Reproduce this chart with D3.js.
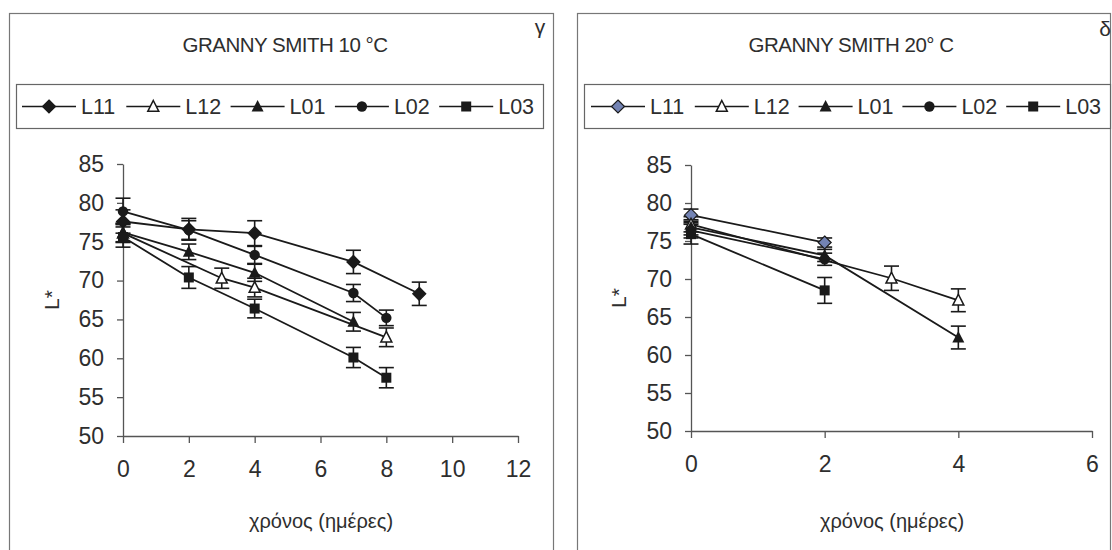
<!DOCTYPE html>
<html><head><meta charset="utf-8">
<script src="https://cdn.jsdelivr.net/npm/d3@7"></script>
<style>
html,body{margin:0;padding:0;background:#fff;}
svg{display:block;font-family:"Liberation Sans",Arial,sans-serif;}
</style></head><body>
<svg id="chart" width="1112" height="550"></svg>
<script>
// Series names and their marker styles
const seriesNames = ["L11", "L12", "L01", "L02", "L03"];
const seriesSymbols = ["diamond", "triangleOpen", "triangle", "circle", "square"];

// Storage at 10 °C: [day, L*, ± error]
const L11_10 = [[0, 77.6, 1.5], [2, 76.6, 1.4], [4, 76.1, 1.6], [7, 72.4, 1.5], [9, 68.3, 1.5]];
const L12_10 = [[0, 76.1, 1.2], [3, 70.3, 1.3], [4, 69.1, 1.2], [8, 62.7, 1.2]];
const L01_10 = [[0, 76.2, 1.2], [2, 73.7, 1.0], [4, 71.0, 1.1], [7, 64.7, 1.2]];
const L02_10 = [[0, 78.9, 1.7], [2, 76.5, 1.2], [4, 73.3, 1.1], [7, 68.4, 1.1], [8, 65.2, 1.0]];
const L03_10 = [[0, 75.6, 1.3], [2, 70.4, 1.4], [4, 66.4, 1.2], [7, 60.1, 1.3], [8, 57.5, 1.3]];

// Storage at 20 °C: [day, L*, ± error]
const L11_20 = [[0, 78.4, 0.8], [2, 74.8, 0.6]];
const L12_20 = [[0, 77.2, 1.0], [3, 70.1, 1.6], [4, 67.2, 1.5]];
const L01_20 = [[0, 76.8, 1.0], [2, 73.1, 0.8], [4, 62.3, 1.5]];
const L02_20 = [[0, 76.4, 1.0], [2, 72.6, 0.8]];
const L03_20 = [[0, 75.9, 1.3], [2, 68.5, 1.7]];

// Axis ticks and text
const yTicks = [50, 55, 60, 65, 70, 75, 80, 85];
const xTicks10 = [0, 2, 4, 6, 8, 10, 12];
const xTicks20 = [0, 2, 4, 6];
const titles = ["GRANNY SMITH 10 °C", "GRANNY SMITH 20° C"];
const panelTags = ["γ", "δ"];
const xLabel = "χρόνος (ημέρες)";
const yLabel = "L*";

const INK = "#1a1a1a";
const TEXT = "#2e2e2e";
const AXIS = "#555";
const DIAMOND_20 = "#7383b3";

const panels = [
  {
    series: [L11_10, L12_10, L01_10, L02_10, L03_10],
    xTicks: xTicks10, title: titles[0], tag: panelTags[0],
    frame: {x: 9, y: 13, w: 544, h: 560},
    legend: {x: 16, y: 84, w: 527, h: 44, start: 22, step: 104.3},
    plot: {left: 123, right: 518, top: 164, bottom: 436},
    titleX: 285, tagX: 540, tagY: 34, yLabelX: 52, yLabelY: 300, xLabelX: 321,
    diamondFill: INK
  },
  {
    series: [L11_20, L12_20, L01_20, L02_20, L03_20],
    xTicks: xTicks20, title: titles[1], tag: panelTags[1],
    frame: {x: 577, y: 13, w: 533, h: 560},
    legend: {x: 584, y: 84, w: 526, h: 44, start: 591, step: 103.8},
    plot: {left: 691, right: 1092, top: 165, bottom: 431},
    titleX: 851, tagX: 1105, tagY: 36, yLabelX: 619, yLabelY: 298, xLabelX: 892,
    diamondFill: DIAMOND_20
  }
];

const svg = d3.select("#chart");

// Marker shapes centred on (0,0)
function drawMarker(g, kind, diamondFill) {
  if (kind === "diamond") {
    g.append("path").attr("d", "M0,-6.5L6.5,0L0,6.5L-6.5,0Z")
      .attr("fill", diamondFill).attr("stroke", INK).attr("stroke-width", 1.2);
  } else if (kind === "circle") {
    g.append("circle").attr("r", 5.2).attr("fill", INK);
  } else if (kind === "square") {
    g.append("rect").attr("x", -5).attr("y", -5).attr("width", 10).attr("height", 10).attr("fill", INK);
  } else if (kind === "triangle") {
    g.append("path").attr("d", "M0,-6.5L6,5L-6,5Z").attr("fill", INK);
  } else if (kind === "triangleOpen") {
    g.append("path").attr("d", "M0,-6L5.5,4.8L-5.5,4.8Z")
      .attr("fill", "#fff").attr("stroke", INK).attr("stroke-width", 1.5);
  }
}

panels.forEach(p => {
  const g = svg.append("g");

  // Outer frame
  g.append("rect").attr("x", p.frame.x + 0.5).attr("y", p.frame.y + 0.5)
    .attr("width", p.frame.w).attr("height", p.frame.h)
    .attr("fill", "none").attr("stroke", "#777").attr("stroke-width", 1.2);

  // Title and panel tag
  g.append("text").attr("x", p.titleX).attr("y", 51.5).attr("text-anchor", "middle")
    .attr("font-size", 20.5).attr("fill", TEXT).attr("letter-spacing", -0.5).text(p.title);
  g.append("text").attr("x", p.tagX).attr("y", p.tagY).attr("text-anchor", "middle")
    .attr("font-size", 21).attr("fill", TEXT).text(p.tag);

  // Legend
  const L = p.legend;
  g.append("rect").attr("x", L.x + 0.5).attr("y", L.y + 0.5).attr("width", L.w).attr("height", L.h)
    .attr("fill", "#fff").attr("stroke", "#666").attr("stroke-width", 1.2);
  const ly = L.y + L.h / 2 + 0.5;
  seriesNames.forEach((name, i) => {
    const x0 = L.start + i * L.step;
    g.append("line").attr("x1", x0).attr("x2", x0 + 54).attr("y1", ly).attr("y2", ly)
      .attr("stroke", INK).attr("stroke-width", 1.6);
    const mg = g.append("g").attr("transform", `translate(${x0 + 27},${ly})`);
    drawMarker(mg, seriesSymbols[i], i === 0 ? p.diamondFill : INK);
    g.append("text").attr("x", x0 + 59).attr("y", ly + 7.8)
      .attr("font-size", 21.5).attr("fill", TEXT).text(name);
  });

  // Scales
  const x = d3.scaleLinear().domain([p.xTicks[0], p.xTicks[p.xTicks.length - 1]])
    .range([p.plot.left, p.plot.right]);
  const y = d3.scaleLinear().domain([50, 85]).range([p.plot.bottom, p.plot.top]);

  // Axes
  const yAxis = d3.axisLeft(y).tickValues(yTicks).tickFormat(d3.format("d"))
    .tickSize(6).tickPadding(13).tickSizeOuter(0);
  const yg = g.append("g").attr("transform", `translate(${p.plot.left},0)`).call(yAxis);
  const xAxis = d3.axisBottom(x).tickValues(p.xTicks).tickFormat(d3.format("d"))
    .tickSize(7).tickPadding(13).tickSizeOuter(0);
  const xg = g.append("g").attr("transform", `translate(0,${p.plot.bottom})`).call(xAxis);
  [yg, xg].forEach(ag => {
    ag.select(".domain").attr("stroke", AXIS).attr("stroke-width", 1.3);
    ag.selectAll(".tick line").attr("stroke", AXIS).attr("stroke-width", 1.3);
    ag.selectAll(".tick text").attr("fill", TEXT).attr("font-size", 23)
      .attr("font-family", "Liberation Sans, Arial, sans-serif");
  });
  xg.selectAll(".tick text").attr("dy", "0.9em");

  // Axis titles
  g.append("text").attr("x", p.xLabelX).attr("y", 528).attr("text-anchor", "middle")
    .attr("font-size", 20).attr("fill", TEXT).text(xLabel);
  g.append("text").attr("transform", `translate(${p.yLabelX + 7},${p.yLabelY}) rotate(-90)`)
    .attr("text-anchor", "middle").attr("font-size", 21).attr("fill", TEXT).text(yLabel);

  // Series lines
  const line = d3.line().x(d => x(d[0])).y(d => y(d[1]));
  p.series.forEach(s => {
    g.append("path").datum(s).attr("d", line).attr("fill", "none")
      .attr("stroke", INK).attr("stroke-width", 1.8);
  });

  // Error bars
  p.series.forEach(s => {
    const eb = g.append("g").attr("stroke", INK).attr("stroke-width", 1.6);
    s.forEach(d => {
      const cx = x(d[0]), yt = y(d[1] + d[2]), yb = y(d[1] - d[2]);
      eb.append("line").attr("x1", cx).attr("x2", cx).attr("y1", yt).attr("y2", yb);
      eb.append("line").attr("x1", cx - 7.5).attr("x2", cx + 7.5).attr("y1", yt).attr("y2", yt);
      eb.append("line").attr("x1", cx - 7.5).attr("x2", cx + 7.5).attr("y1", yb).attr("y2", yb);
    });
  });

  // Markers
  p.series.forEach((s, i) => {
    s.forEach(d => {
      const mg = g.append("g").attr("transform", `translate(${x(d[0])},${y(d[1])})`);
      drawMarker(mg, seriesSymbols[i], i === 0 ? p.diamondFill : INK);
    });
  });
});
</script>
</body></html>
